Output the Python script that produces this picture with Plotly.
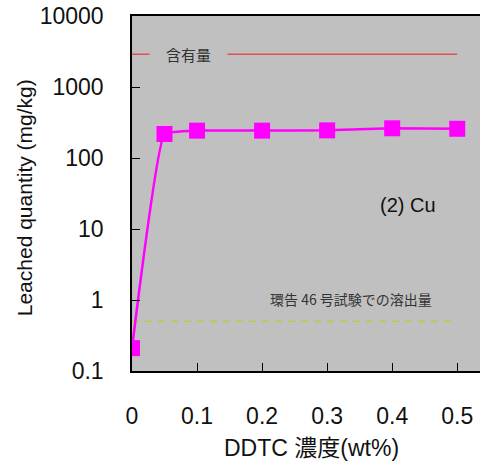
import math
import plotly.graph_objects as go

# DDTC concentration (wt%) and leached Cu (mg/kg)
ddtc = [0, 0.05, 0.1, 0.2, 0.3, 0.4, 0.5]
cu_leached = [0.21, 218, 243, 243, 245, 262, 258]

content_level = 2900      # 含有量
test46_level = 0.5        # 環告46号試験での溶出量
ref_x = [0, 0.5]

ytick_vals = [0.1, 1, 10, 100, 1000, 10000]
ytick_text = ["0.1", "1", "10", "100", "1000", "10000"]
xtick_vals = [0, 0.1, 0.2, 0.3, 0.4, 0.5]
xtick_text = ["0", "0.1", "0.2", "0.3", "0.4", "0.5"]

fig = go.Figure()

fig.add_trace(go.Scatter(
    x=ref_x, y=[content_level, content_level], mode="lines",
    line=dict(color="#e05050", width=1.5), hoverinfo="skip", showlegend=False))
fig.add_trace(go.Scatter(
    x=ref_x, y=[test46_level, test46_level], mode="lines",
    line=dict(color="#b8cc48", width=1.5, dash="7px,6px"),
    hoverinfo="skip", showlegend=False))
fig.add_trace(go.Scatter(
    x=ddtc, y=cu_leached, mode="lines+markers",
    line=dict(color="#ff00ff", width=2.5, shape="spline", smoothing=0.3),
    marker=dict(symbol="square", size=16, color="#ff00ff"),
    showlegend=False))

# annotation y positions on a log axis are given in log10 units
fig.add_annotation(x=0.087, y=math.log10(content_level), xref="x", yref="y",
                   text="含有量", showarrow=False, bgcolor="#c0c0c0",
                   borderpad=16,
                   font=dict(family="Noto Sans CJK JP", size=15, color="#333333"))
fig.add_annotation(x=0.337, y=math.log10(test46_level), xref="x", yref="y",
                   yshift=22, text="環告 46 号試験での溶出量", showarrow=False,
                   font=dict(family="Noto Sans CJK JP", size=14, color="#333333"))
fig.add_annotation(x=0.425, y=math.log10(22), xref="x", yref="y",
                   text="(2) Cu", showarrow=False,
                   font=dict(family="Liberation Sans", size=20, color="#111111"))

# axis titles
fig.add_annotation(x=0.515, y=-0.217, xref="paper", yref="paper",
                   xanchor="center", yanchor="middle", showarrow=False,
                   text="DDTC 濃度(wt%)",
                   font=dict(family="Liberation Sans, Noto Sans CJK JP", size=23, color="#111111"))
fig.add_annotation(x=-0.31, y=0.487, xref="paper", yref="paper",
                   xanchor="center", yanchor="middle", showarrow=False,
                   textangle=-90, text="Leached quantity (mg/kg)",
                   font=dict(family="Liberation Sans", size=21, color="#111111"))

axis_font = dict(family="Liberation Sans", size=23, color="#111111")
fig.update_layout(
    width=480, height=468,
    margin=dict(l=132, r=0, t=16, b=97),
    paper_bgcolor="white", plot_bgcolor="#c0c0c0",
    font=dict(family="Liberation Sans", color="#111111"),
    xaxis=dict(range=[0, 0.535], tickvals=xtick_vals, ticktext=xtick_text,
               ticks="inside", ticklen=8, tickcolor="black",
               ticklabelstandoff=24,
               showline=True, linecolor="black", linewidth=1.5, mirror=True,
               showgrid=False, zeroline=False, tickfont=axis_font),
    yaxis=dict(type="log", range=[-1, 4], tickvals=ytick_vals, ticktext=ytick_text,
               ticks="inside", ticklen=8, tickcolor="black",
               ticklabelstandoff=22,
               showline=True, linecolor="black", linewidth=1.5,
               showgrid=False, zeroline=False, tickfont=axis_font),
)

fig.write_html("out.html")
